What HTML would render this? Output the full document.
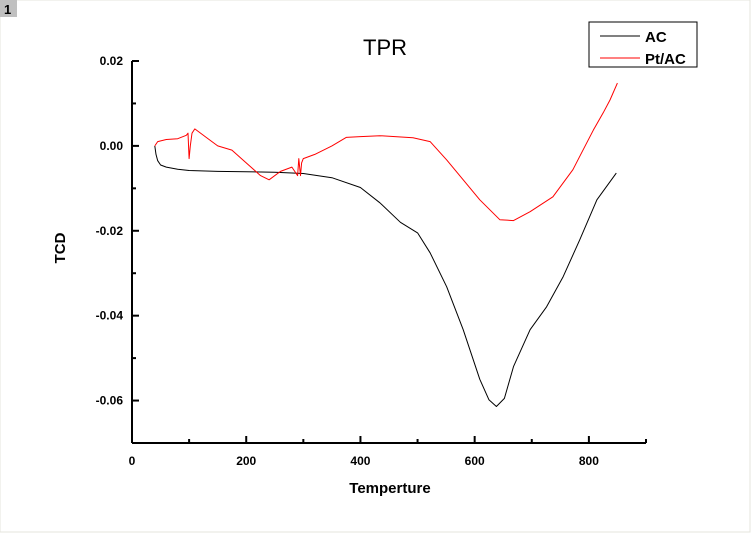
<!DOCTYPE html>
<html><head><meta charset="utf-8"><style>
body{margin:0;background:#fff;}
svg{display:block;font-family:"Liberation Sans",Arial,sans-serif;}
</style></head><body>
<svg id="chart" width="751" height="533">
<rect x="0" y="0" width="750" height="532" fill="#fff" stroke="#e4e4dc"/>
<rect x="0" y="0" width="17" height="17" fill="#c0c0c0"/>
<text x="4" y="14" font-size="13" font-weight="bold">1</text>
<text x="385" y="55" font-size="22" text-anchor="middle">TPR</text>
<g id="axes"></g>
<g id="series"></g>
<text x="390" y="493" font-size="15" font-weight="bold" text-anchor="middle">Temperture</text>
<text transform="translate(65,248) rotate(-90)" font-size="15" font-weight="bold" text-anchor="middle">TCD</text>
<g>
<rect x="589" y="22" width="108" height="45" fill="#fff" stroke="#000"/>
<line x1="600" y1="36" x2="640" y2="36" stroke="#000"/>
<text x="645" y="42" font-size="15" font-weight="bold">AC</text>
<line x1="600" y1="58" x2="640" y2="58" stroke="#f00"/>
<text x="645" y="64" font-size="15" font-weight="bold">Pt/AC</text>
</g>
</svg>
<script>
const xTicks=[0,200,400,600,800];
const yTicks=[0.02,0.00,-0.02,-0.04,-0.06];
const yTickLabels=["0.02","0.00","-0.02","-0.04","-0.06"];
const acT=[40,42,45,50,60,80,100,150,200,250,300,350,400,434,470,500,522,551,580,609,625,638,652,668,697,726,755,784,814,848];
const acV=[0,-0.002,-0.0035,-0.0045,-0.005,-0.0055,-0.0058,-0.006,-0.0061,-0.0062,-0.0065,-0.0075,-0.0098,-0.0134,-0.018,-0.0205,-0.0252,-0.0332,-0.0433,-0.055,-0.0598,-0.0614,-0.0595,-0.052,-0.0433,-0.0379,-0.0308,-0.0221,-0.0127,-0.0064];
const ptT=[40,45,60,80,95,98,100,102,105,110,130,150,175,200,225,240,260,280,290,292,295,297,300,320,350,375,400,434,492,522,551,580,609,644,668,697,737,772,790,808,825,837,850];
const ptV=[0,0.001,0.0015,0.0017,0.0025,0.003,-0.003,0.0,0.003,0.004,0.002,0.0,-0.001,-0.004,-0.007,-0.008,-0.006,-0.005,-0.007,-0.003,-0.007,-0.004,-0.003,-0.002,0.0,0.002,0.0022,0.0024,0.0019,0.001,-0.0033,-0.008,-0.0127,-0.0174,-0.0176,-0.0155,-0.012,-0.0056,-0.0009,0.0038,0.0078,0.0108,0.0148];
const X0=132,X1=646,Xmin=0,Xmax=900,Y0=443,Y1=61,Ymin=-0.07,Ymax=0.02;
const sx=v=>X0+(v-Xmin)/(Xmax-Xmin)*(X1-X0);
const sy=v=>Y0-(v-Ymin)/(Ymax-Ymin)*(Y0-Y1);
const NS="http://www.w3.org/2000/svg";
const axes=document.getElementById('axes'),ser=document.getElementById('series');
function mk(tag,at,parent){const e=document.createElementNS(NS,tag);for(const k in at)e.setAttribute(k,at[k]);parent.appendChild(e);return e;}
let e=mk('line',{x1:X0,y1:Y1,x2:X0,y2:Y0,stroke:'#000','stroke-width':2},axes);


e=mk('line',{x1:X0,y1:Y0,x2:X1,y2:Y0,stroke:'#000','stroke-width':2},axes);


for(let v=0;v<=900;v+=100){
 const l=mk('line',{x1:sx(v),y1:Y0,x2:sx(v),y2:Y0-(v%200==0?7:4),stroke:'#000','stroke-width':2},axes);
 
 
}
xTicks.forEach(v=>{const t=mk('text',{x:sx(v),y:Y0+22,'font-size':12,'font-weight':'bold','text-anchor':'middle'},axes);t.textContent=v;
 
 });
for(let i=0;i<9;i++){const v=0.02-i*0.01;
 const l=mk('line',{x1:X0,y1:sy(v),x2:X0+(i%2==0?7:4),y2:sy(v),stroke:'#000','stroke-width':2},axes);
 
 }
yTicks.forEach((v,i)=>{const t=mk('text',{x:X0-9,y:sy(v)+4,'font-size':12,'font-weight':'bold','text-anchor':'end'},axes);t.textContent=yTickLabels[i];
 
 });
const pts=(T,V)=>T.map((t,i)=>sx(t).toFixed(1)+','+sy(V[i]).toFixed(1)).join(' ');
e=mk('polyline',{points:pts(acT,acV),fill:'none',stroke:'#000','stroke-width':1,'stroke-linejoin':'round'},ser);


e=mk('polyline',{points:pts(ptT,ptV),fill:'none',stroke:'#f00','stroke-width':1,'stroke-linejoin':'round'},ser);


</script>
</body></html>
